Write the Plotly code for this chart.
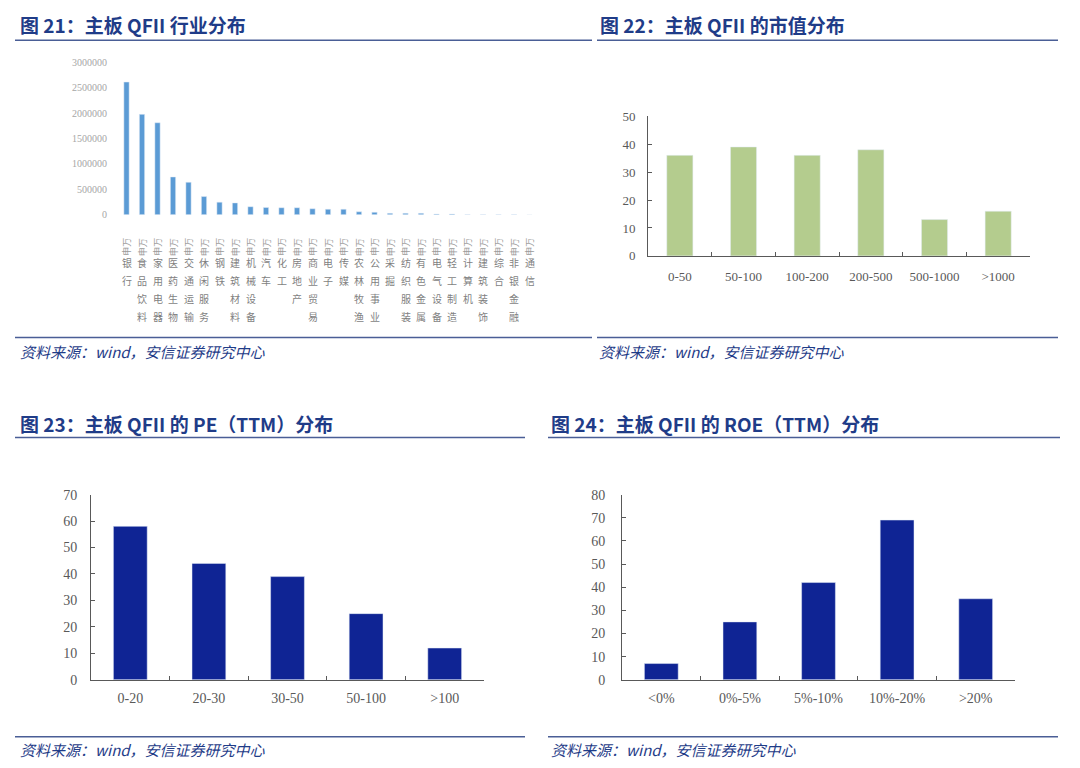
import plotly.graph_objects as go

W, H = 1080, 768
# the screenshot maps page rows as y_shot = (y_page + 8) * 768 / 784
SHOT_SCALE = 768 / 784
SHOT_OFFSET = 8

# 图21 行业分布
industries = ['银行', '食品饮料', '家用电器', '医药生物', '交通运输', '休闲服务', '钢铁',
              '建筑材料', '机械设备', '汽车', '化工', '房地产', '商业贸易', '电子', '传媒',
              '农林牧渔', '公用事业', '采掘', '纺织服装', '有色金属', '电气设备', '轻工制造',
              '计算机', '建筑装饰', '综合', '非银金融', '通信']
industry_values = [2610000, 1975000, 1810000, 745000, 640000, 360000, 250000,
                   235000, 160000, 145000, 140000, 140000, 120000, 110000, 110000,
                   60000, 50000, 30000, 30000, 30000, 15000, 15000,
                   8000, 8000, 5000, 5000, 3000]
industry_prefix = '申万'

# 图22 市值分布
cap_bins = ['0-50', '50-100', '100-200', '200-500', '500-1000', '>1000']
cap_counts = [36, 39, 36, 38, 13, 16]

# 图23 PE(TTM)
pe_bins = ['0-20', '20-30', '30-50', '50-100', '>100']
pe_counts = [58, 44, 39, 25, 12]

# 图24 ROE(TTM)
roe_bins = ['<0%', '0%-5%', '5%-10%', '10%-20%', '>20%']
roe_counts = [7, 25, 42, 69, 35]

titles = ['图 21：主板 QFII 行业分布', '图 22：主板 QFII 的市值分布',
          '图 23：主板 QFII 的 PE（TTM）分布', '图 24：主板 QFII 的 ROE（TTM）分布']
source = '资料来源：wind，安信证券研究中心'

BLUE = '#1F3C88'
LINE = '#4A5E96'
AXIS = '#595959'
SERIF = 'Liberation Serif, Times New Roman, serif'
CJK = 'Noto Sans CJK SC'


def px(x):
    return x / W


def py(y):
    return 1 - (y / SHOT_SCALE - SHOT_OFFSET) / H


fig = go.Figure()

fig.add_trace(go.Bar(x=industries, y=industry_values, marker_color='#5B9BD5',
                     width=0.34, xaxis='x', yaxis='y', showlegend=False))
fig.add_trace(go.Bar(x=cap_bins, y=cap_counts, marker_color='#B4CC8E',
                     width=0.41, xaxis='x2', yaxis='y2', showlegend=False))
fig.add_trace(go.Bar(x=pe_bins, y=pe_counts, marker_color='#0F2494',
                     width=0.43, xaxis='x3', yaxis='y3', showlegend=False))
fig.add_trace(go.Bar(x=roe_bins, y=roe_counts, marker_color='#0F2494',
                     width=0.43, xaxis='x4', yaxis='y4', showlegend=False))


def cat_axis(domain, anchor, size=14, standoff=5):
    return dict(domain=domain, anchor=anchor, showline=True, linecolor=AXIS, linewidth=1,
                ticks='inside', tickson='boundaries', ticklen=4, tickcolor=AXIS,
                showgrid=False, zeroline=False, ticklabelstandoff=standoff,
                tickfont=dict(family=SERIF, size=size, color=AXIS))


def val_axis(domain, anchor, rng, dtick, size=14, standoff=10):
    return dict(domain=domain, anchor=anchor, range=rng, dtick=dtick, showline=True,
                linecolor=AXIS, linewidth=1, ticks='inside', ticklen=4, tickcolor=AXIS,
                showgrid=False, zeroline=False, ticklabelstandoff=standoff,
                tickfont=dict(family=SERIF, size=size, color=AXIS))


fig.update_layout(
    width=W, height=H,
    margin=dict(l=0, r=0, t=0, b=0),
    paper_bgcolor='white', plot_bgcolor='white',
    bargap=0.5,
    xaxis=dict(domain=[px(118), px(538)], anchor='y', showticklabels=False,
               showline=False, showgrid=False, zeroline=False, ticks=''),
    yaxis=dict(domain=[py(215.5), py(63)], anchor='x', range=[0, 3000000], dtick=500000,
               tickformat='d', showline=False, showgrid=False, zeroline=False,
               ticklabelstandoff=10,
               tickfont=dict(family=SERIF, size=10, color='#A6A6A6')),
    xaxis2=cat_axis([px(648), px(1030)], 'y2', size=13, standoff=9),
    yaxis2=val_axis([py(256.5), py(117)], 'x2', [0, 50], 10, size=13, standoff=9),
    xaxis3=cat_axis([px(91), px(484)], 'y3'),
    yaxis3=val_axis([py(680), py(495)], 'x3', [0, 70], 10),
    xaxis4=cat_axis([px(622), px(1015)], 'y4'),
    yaxis4=val_axis([py(680), py(495)], 'x4', [0, 80], 10, standoff=13),
)

ann = []
# category labels of chart 21: rotated prefix plus stacked characters
for name in industries:
    ann.append(dict(x=name, y=py(237), xref='x', yref='paper', text=industry_prefix,
                    textangle=-90, showarrow=False,
                    font=dict(family=CJK, size=9, color='#9A9A9A')))
    for i, ch in enumerate(name):
        ann.append(dict(x=name, y=py(263 + 18 * i), xref='x', yref='paper', text=ch,
                        showarrow=False, font=dict(family=CJK, size=10, color='#7F7F7F')))

# titles and sources
title_pos = [(18, 25), (598, 25), (18, 424), (549, 424)]
source_pos = [(18, 352), (597, 352), (18, 750), (549, 750)]
for t, (tx, ty) in zip(titles, title_pos):
    ann.append(dict(x=px(tx), y=py(ty), xref='paper', yref='paper', text='<b>' + t + '</b>',
                    xanchor='left', yanchor='middle', showarrow=False,
                    font=dict(family=CJK, size=19, color=BLUE)))
for sx, sy in source_pos:
    ann.append(dict(x=px(sx), y=py(sy), xref='paper', yref='paper', text='<i>' + source + '</i>',
                    xanchor='left', yanchor='middle', showarrow=False,
                    font=dict(family=CJK, size=15, color=BLUE)))
fig.update_layout(annotations=ann)

# rule lines under titles and above sources
rules = [(15, 592, 41), (597, 1058, 41), (15, 592, 338), (597, 1058, 338),
         (15, 525, 438), (548, 1060, 438), (15, 525, 737), (548, 1058, 737)]
for x0, x1, y in rules:
    fig.add_shape(type='line', xref='paper', yref='paper', x0=px(x0), x1=px(x1),
                  y0=py(y), y1=py(y), line=dict(color=LINE, width=1.5))

fig.write_html("out.html", config={'displayModeBar': False},
               post_script="document.body.style.margin='0';")
